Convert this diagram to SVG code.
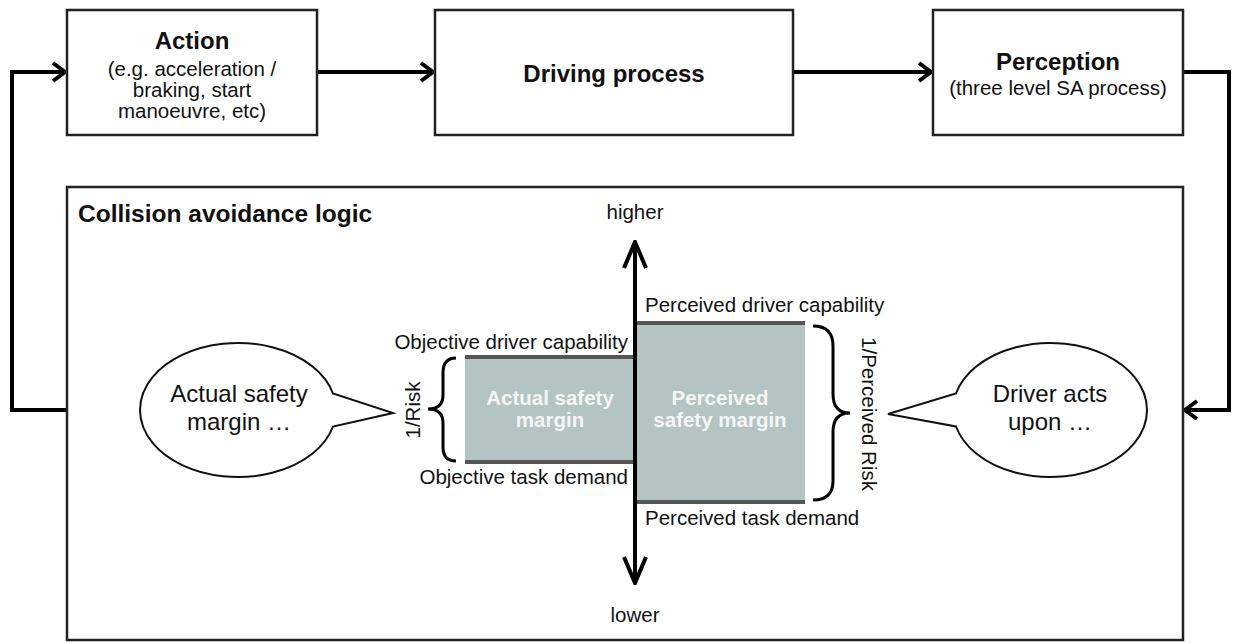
<svg xmlns="http://www.w3.org/2000/svg" width="1237" height="643" viewBox="0 0 1237 643">
<style>
text{font-family:"Liberation Sans",Arial,sans-serif;fill:#111}
.box{fill:#fff;stroke:#222;stroke-width:2.5}
.h{font-weight:bold;font-size:24px}
.s{font-size:20.5px}
.l{font-size:20.5px}
.b{font-size:24px}
.w{font-size:20.5px;font-weight:bold;fill:#f4f6f6}
.conn{fill:none;stroke:#000;stroke-width:4}
.edge{stroke:#555;stroke-width:4}
.brace{fill:none;stroke:#000;stroke-width:3}
.bubble{fill:#fff;stroke:#111;stroke-width:2}
</style>
<defs>
<marker id="ah" viewBox="0 0 16 22" refX="14" refY="11" markerWidth="16" markerHeight="22" markerUnits="userSpaceOnUse" orient="auto-start-reverse">
<path d="M2,2 L14,11 L2,20" fill="none" stroke="#000" stroke-width="4"/>
</marker>
<marker id="ah2" viewBox="0 0 30 22" refX="28" refY="11" markerWidth="30" markerHeight="32" markerUnits="userSpaceOnUse" orient="auto-start-reverse">
<path d="M2,0 L28,11 L2,22" fill="none" stroke="#000" stroke-width="4"/>
</marker>
</defs>
<rect width="1237" height="643" fill="#fff"/>

<g id="connectors">
<path class="conn" d="M317,72 H433" marker-end="url(#ah)"/>
<path class="conn" d="M793,72 H931" marker-end="url(#ah)"/>
<path class="conn" d="M1183,72 H1229 V410 H1185" marker-end="url(#ah)"/>
<path class="conn" d="M67,410 H12 V72 H65" marker-end="url(#ah)"/>
</g>

<g id="action">
<rect class="box" x="67" y="10" width="250" height="125"/>
<text class="h" x="192" y="49" text-anchor="middle">Action</text>
<text class="s" x="192" y="76" text-anchor="middle">(e.g. acceleration /</text>
<text class="s" x="192" y="97" text-anchor="middle">braking, start</text>
<text class="s" x="192" y="118" text-anchor="middle">manoeuvre, etc)</text>
</g>

<g id="driving">
<rect class="box" x="435" y="10" width="358" height="125"/>
<text class="h" x="614" y="82" text-anchor="middle">Driving process</text>
</g>

<g id="perception">
<rect class="box" x="933" y="10" width="250" height="125"/>
<text class="h" x="1058" y="70" text-anchor="middle">Perception</text>
<text class="s" x="1058" y="95" text-anchor="middle">(three level SA process)</text>
</g>

<g id="collision-logic">
<rect class="box" x="67" y="187" width="1116" height="453"/>
<text x="78" y="222" style="font-weight:bold;font-size:24.5px">Collision avoidance logic</text>
</g>

<g id="actual-margin">
<rect x="465" y="357" width="170" height="105" fill="#b4c3c3"/>
<line class="edge" x1="465" y1="357" x2="635" y2="357"/>
<line class="edge" x1="465" y1="462" x2="635" y2="462"/>
<text class="w" x="550" y="405" text-anchor="middle">Actual safety</text>
<text class="w" x="550" y="427" text-anchor="middle">margin</text>
<text class="l" x="628" y="349" text-anchor="end">Objective driver capability</text>
<text class="l" x="628" y="484" text-anchor="end">Objective task demand</text>
<path class="brace" d="M456,358 Q443,358 443,373 L443,395 Q443,409 428,409 Q443,409 443,423 L443,447 Q443,461 456,461"/>
<text class="l" transform="translate(420,410) rotate(-90)" text-anchor="middle">1/Risk</text>
</g>

<g id="perceived-margin">
<rect x="635" y="323" width="170" height="179" fill="#b4c3c3"/>
<line class="edge" x1="637" y1="323" x2="805" y2="323"/>
<line class="edge" x1="637" y1="502" x2="805" y2="502"/>
<text class="w" x="720" y="405" text-anchor="middle">Perceived</text>
<text class="w" x="720" y="427" text-anchor="middle">safety margin</text>
<text class="l" x="645" y="312" text-anchor="start">Perceived driver capability</text>
<text class="l" x="645" y="525" text-anchor="start">Perceived task demand</text>
<path class="brace" d="M813,326 Q833,326 833,346 L833,394 Q833,413 850,413 Q833,413 833,432 L833,481 Q833,500 813,500"/>
<text class="l" transform="translate(862,414) rotate(90)" text-anchor="middle">1/Perceived Risk</text>
</g>

<g id="axis">
<path class="conn" d="M635,583 V242" stroke-width="5" marker-start="url(#ah2)" marker-end="url(#ah2)"/>
<text class="l" x="635" y="219" text-anchor="middle">higher</text>
<text class="l" x="635" y="622" text-anchor="middle">lower</text>
</g>

<g id="bubble-actual">
<path class="bubble" d="M333,393.5 A98,67 0 1 0 333,426.5 L393,413 Z"/>
<text class="b" x="239" y="402" text-anchor="middle">Actual safety</text>
<text class="b" x="239" y="430" text-anchor="middle">margin …</text>
</g>

<g id="bubble-driver">
<path class="bubble" d="M956,426.5 A97,67 0 1 0 956,393.5 L888,414 Z"/>
<text class="b" x="1050" y="402" text-anchor="middle">Driver acts</text>
<text class="b" x="1050" y="430" text-anchor="middle">upon …</text>
</g>
</svg>
